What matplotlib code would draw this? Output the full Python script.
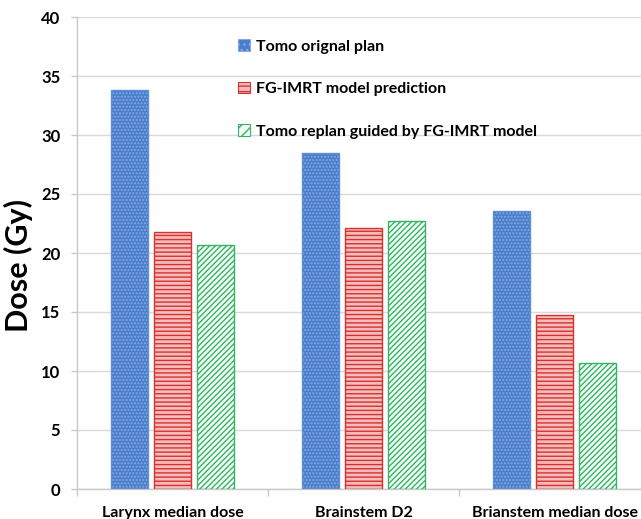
import numpy as np
import matplotlib.pyplot as plt
from matplotlib.patches import Patch

# dose per structure, three plans
categories = ["Larynx median dose", "Brainstem D2", "Brianstem median dose"]
tomo_orig = [33.85, 28.5, 23.6]
fg_imrt = [21.75, 22.1, 14.75]
tomo_replan = [20.65, 22.75, 10.7]
series_names = ["Tomo orignal plan", "FG-IMRT model prediction",
                "Tomo replan guided by FG-IMRT model"]

# fill, hatch colour, edge, hatch pattern
styles = [
    ("#4a7dcc", "#86a9e2", "#5f8fd8", "....."),
    ("#f0bcbc", "#d8312f", "#d8312f", "----"),
    ("#f4fbf6", "#35b466", "#35b466", "//////"),
]

plt.rcParams['font.family'] = ['Lato', 'DejaVu Sans']
plt.rcParams['hatch.linewidth'] = 1.0

fig = plt.figure(figsize=(6.41, 5.19), dpi=100)
ax = fig.add_axes([77 / 641, 30 / 519, 573 / 641, 472 / 519])

x = np.arange(len(categories))
bw = 0.19
step = 0.225
grey = "#c8c8c8"

handles = []
for i, (vals, (fc, hc, ec, hatch)) in enumerate(zip([tomo_orig, fg_imrt, tomo_replan], styles)):
    pos = x + (i - 1) * step
    ax.bar(pos, vals, bw, color=fc, edgecolor="none", zorder=2)
    ax.bar(pos, vals, bw, color="none", edgecolor=hc, hatch=hatch, linewidth=0, zorder=3)
    ax.bar(pos, vals, bw, color="none", edgecolor=ec, linewidth=1.0, zorder=4)
    handles.append(Patch(facecolor=fc, edgecolor=hc, hatch=hatch[:3], linewidth=0.8))

ax.set_ylim(0, 40)
ax.set_xlim(-0.5, 2.5)
ax.set_yticks(np.arange(0, 41, 5))
ax.yaxis.grid(True, color="#d9d9d9", linewidth=1.0, zorder=0)
ax.set_axisbelow(True)

ax.set_xticks(x)
ax.set_xticklabels(categories, fontsize=11.5, fontweight="bold")
ax.set_xticks(np.arange(-0.5, 3.0, 1.0), minor=True)
ax.tick_params(axis="x", which="major", length=0, pad=12)
ax.tick_params(axis="x", which="minor", length=5, color=grey, width=1)
ax.tick_params(axis="y", length=4, color=grey, width=1, pad=8, labelsize=12)
for lab in ax.get_yticklabels():
    lab.set_fontweight("bold")

for side in ["top", "right"]:
    ax.spines[side].set_visible(False)
for side in ["left", "bottom"]:
    ax.spines[side].set_color(grey)
    ax.spines[side].set_linewidth(1.0)

fig.text(18 / 641, 1 - 265 / 519, "Dose (Gy)", rotation=90, fontsize=22,
         fontweight="bold", ha="center", va="center")

fig.legend(handles, series_names, loc="upper left",
           bbox_to_anchor=(224 / 641, 1 - 25 / 519), frameon=False,
           prop={"size": 11.5, "weight": "bold"}, handlelength=0.75,
           handleheight=0.75, handletextpad=0.35, labelspacing=1.75)

fig.savefig("out.png", dpi=100)
